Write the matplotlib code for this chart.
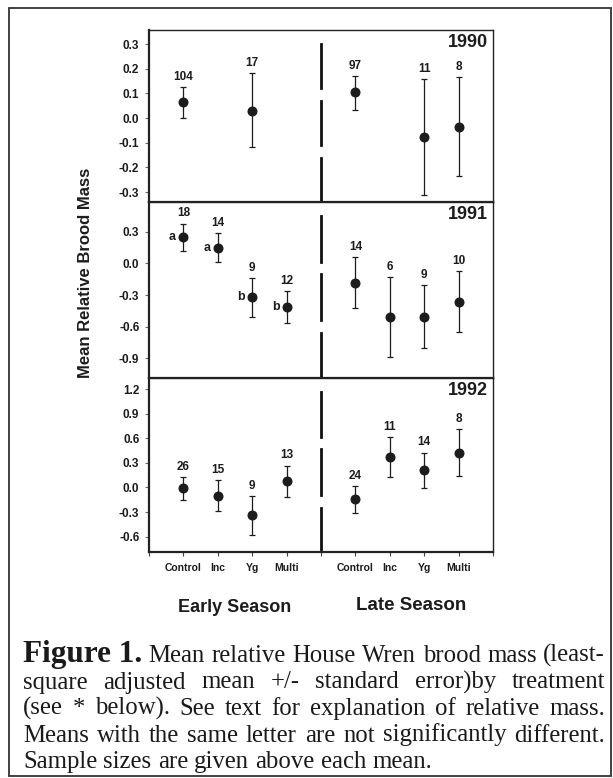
import matplotlib
matplotlib.use("Agg")
import matplotlib.pyplot as plt
from matplotlib.patches import Rectangle

plt.rcParams['font.family'] = ['Liberation Sans', 'DejaVu Sans']
plt.rcParams['axes.unicode_minus'] = False

treatments = ["Control", "Inc", "Yg", "Multi"]
years = ["1990", "1991", "1992"]

# x slot of each mean: 1-4 early season, 6-9 late season
pos_1990 = [1, 3, 6, 8, 9]
mean_1990 = [0.064, 0.030, 0.104, -0.077, -0.036]
lo_1990 = [0.000, -0.119, 0.034, -0.311, -0.234]
hi_1990 = [0.124, 0.182, 0.169, 0.158, 0.166]
n_1990 = [104, 17, 97, 11, 8]
let_1990 = ["", "", "", "", ""]

pos_1991 = [1, 2, 3, 4, 6, 7, 8, 9]
mean_1991 = [0.249, 0.148, -0.319, -0.410, -0.183, -0.508, -0.508, -0.363]
lo_1991 = [0.120, 0.013, -0.508, -0.562, -0.426, -0.887, -0.805, -0.647]
hi_1991 = [0.376, 0.287, -0.142, -0.265, 0.060, -0.133, -0.205, -0.073]
n_1991 = [18, 14, 9, 12, 14, 6, 9, 10]
let_1991 = ["a", "a", "b", "b", "", "", "", ""]

pos_1992 = [1, 2, 3, 4, 6, 7, 8, 9]
mean_1992 = [-0.012, -0.103, -0.341, 0.082, -0.144, 0.374, 0.210, 0.427]
lo_1992 = [-0.152, -0.288, -0.575, -0.115, -0.312, 0.132, -0.008, 0.144]
hi_1992 = [0.123, 0.090, -0.103, 0.267, 0.016, 0.616, 0.427, 0.715]
n_1992 = [26, 15, 9, 13, 24, 11, 14, 8]
let_1992 = ["", "", "", "", "", "", "", ""]

yticks_1990 = [-0.3, -0.2, -0.1, 0.0, 0.1, 0.2, 0.3]
yticks_1991 = [-0.9, -0.6, -0.3, 0.0, 0.3]
yticks_1992 = [-0.6, -0.3, 0.0, 0.3, 0.6, 0.9, 1.2]

panels = [
    (years[0], pos_1990, mean_1990, lo_1990, hi_1990, n_1990, let_1990, yticks_1990, (-0.34, 0.357)),
    (years[1], pos_1991, mean_1991, lo_1991, hi_1991, n_1991, let_1991, yticks_1991, (-1.086, 0.581)),
    (years[2], pos_1992, mean_1992, lo_1992, hi_1992, n_1992, let_1992, yticks_1992, (-0.788, 1.337)),
]

W, H = 613, 778
fig = plt.figure(figsize=(W / 100, H / 100), dpi=100)
ink = "#1c1c1c"

# panel edges in pixels (top, bottom)
edges = [(30, 202), (202, 378), (378, 552)]
axes = []
for (top, bottom), (yr, pos, mean, lo, hi, n, lets, yt, ylim) in zip(edges, panels):
    ax = fig.add_axes([149 / W, 1 - bottom / H, 344 / W, (bottom - top) / H])
    axes.append(ax)
    yerr = [[m - l for m, l in zip(mean, lo)], [h - m for m, h in zip(mean, hi)]]
    ax.errorbar(pos, mean, yerr=yerr, fmt='o', color=ink, ms=6.2,
                elinewidth=0.9, capsize=2.3, capthick=0.9)
    for x, h, k in zip(pos, hi, n):
        ax.annotate(str(k), (x, h), xytext=(0, 3), textcoords='offset points',
                    ha='center', va='bottom', fontsize=8.5, fontweight='bold', color=ink)
    for x, m, s in zip(pos, mean, lets):
        if s:
            ax.annotate(s, (x, m), xytext=(-8, 0), textcoords='offset points',
                        ha='center', va='center', fontsize=9, fontweight='bold', color=ink)
    # broken divider between early and late season
    for a, b in [(0, 0.255), (0.33, 0.59), (0.66, 0.92)]:
        ax.axvline(5, ymin=a, ymax=b, color="#111111", lw=2)
    ax.set_xlim(0, 10)
    ax.set_ylim(*ylim)
    ax.set_yticks(yt)
    ax.set_yticklabels(["{:.1f}".format(v) for v in yt])
    ax.tick_params(axis='y', direction='out', length=3, width=0.8, color="#666666",
                   labelsize=8.5, pad=4, labelcolor=ink)
    for lab in ax.get_yticklabels():
        lab.set_fontweight('bold')
    ax.text(0.985, 0.975, yr, transform=ax.transAxes, ha='right', va='top',
            fontsize=13, fontweight='bold', color=ink)
    for sp in ax.spines.values():
        sp.set_color("#222222")
        sp.set_linewidth(1.0)
    ax.spines['left'].set_linewidth(1.6)
    ax.spines['bottom'].set_linewidth(1.6)
    ax.set_xticks(range(11))
    ax.tick_params(axis='x', bottom=False, labelbottom=False)

bottom_ax = axes[-1]
bottom_ax.set_xticklabels([""] + treatments + [""] + treatments + [""])
bottom_ax.tick_params(axis='x', bottom=True, labelbottom=True, direction='out',
                      length=3, width=0.8, color="#444444", labelsize=7.5, pad=5,
                      labelcolor=ink)
for lab in bottom_ax.get_xticklabels():
    lab.set_fontweight('bold')

fig.text(85 / W, 1 - 273 / H, "Mean Relative Brood Mass", rotation=90,
         ha='center', va='center', fontsize=12, fontweight='bold', color=ink)
fig.text(235 / W, 1 - 608 / H, "Early Season", ha='center', va='center',
         fontsize=13, fontweight='bold', color=ink)
fig.text(411 / W, 1 - 605 / H, "Late Season", ha='center', va='center',
         fontsize=13.5, fontweight='bold', color=ink)

# outer frame
fig.patches.append(Rectangle((9 / W, 1 - 776 / H), 602 / W, 768 / H,
                             transform=fig.transFigure, fill=False,
                             edgecolor="#333333", lw=1.3))

# caption, justified like the printed page
serif = 'Liberation Serif'
cap_size = 17.8
caption = [
    ([("Figure 1.", 22.5, 'bold')] +
     [(w, cap_size, 'normal') for w in "Mean relative House Wren brood mass (least-".split()], 662, True),
    ([(w, cap_size, 'normal') for w in "square adjusted mean +/- standard error)by treatment".split()], 688.5, True),
    ([(w, cap_size, 'normal') for w in "(see * below). See text for explanation of relative mass.".split()], 715, True),
    ([(w, cap_size, 'normal') for w in "Means with the same letter are not significantly different.".split()], 741.5, True),
    ([(w, cap_size, 'normal') for w in "Sample sizes are given above each mean.".split()], 768, False),
]
renderer = fig.canvas.get_renderer()
x0, x1 = 23, 605
space = cap_size * 0.25 * 100 / 72
for tokens, y, justify in caption:
    texts = [fig.text(0, 1 - y / H, w, fontsize=s, fontweight=wt, family=serif,
                      va='baseline', ha='left', color="#1a1a1a") for w, s, wt in tokens]
    widths = [t.get_window_extent(renderer).width for t in texts]
    gap = (x1 - x0 - sum(widths)) / (len(texts) - 1) if justify else space
    gap = max(gap, 2.5)
    x = x0
    for t, w in zip(texts, widths):
        t.set_x(x / W)
        x += w + gap

fig.savefig("out.png", dpi=100)
